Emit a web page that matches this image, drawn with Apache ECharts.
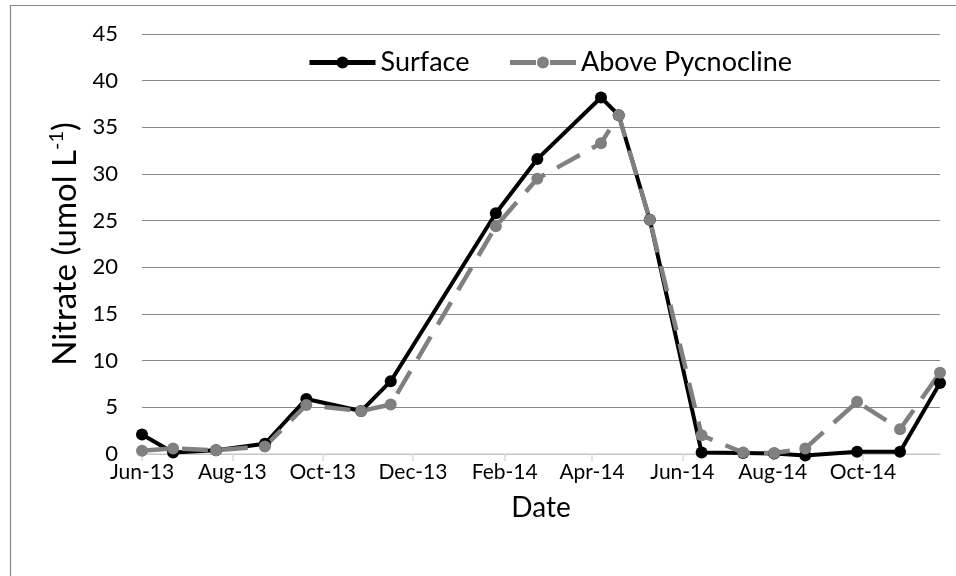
<!DOCTYPE html>
<html>
<head>
<meta charset="utf-8">
<script src="https://cdn.jsdelivr.net/npm/echarts@6/dist/echarts.min.js"></script>
<style>
  html, body { margin: 0; padding: 0; background: #ffffff; }
  #chart { width: 956px; height: 576px; }
</style>
</head>
<body>
<div id="chart"></div>
<script>
// Sampling dates (YYYY-MM-DD)
const sampleDates = [
  '2013-06-01', '2013-06-22', '2013-07-21', '2013-08-23', '2013-09-20',
  '2013-10-27', '2013-11-16', '2014-01-26', '2014-02-23', '2014-04-07',
  '2014-04-19', '2014-05-10', '2014-06-14', '2014-07-12', '2014-08-02',
  '2014-08-23', '2014-09-27', '2014-10-26', '2014-11-22'
];

// Nitrate concentrations (umol L-1)
const surface = [
  2.1, 0.15, 0.4, 1.1, 5.9, 4.6, 7.8, 25.8, 31.6, 38.2,
  36.3, 25.1, 0.15, 0.1, 0.05, -0.15, 0.25, 0.25, 7.6
];
const abovePycnocline = [
  0.35, 0.6, 0.4, 0.8, 5.25, 4.6, 5.3, 24.4, 29.5, 33.3,
  36.3, 25.1, 2.0, 0.15, 0.1, 0.6, 5.6, 2.65, 8.7
];

// Date-axis tick positions (every two months)
const tickDates = [
  '2013-06-01', '2013-08-01', '2013-10-01', '2013-12-01', '2014-02-01',
  '2014-04-01', '2014-06-01', '2014-08-01', '2014-10-01'
];
const monthNames = ['Jan', 'Feb', 'Mar', 'Apr', 'May', 'Jun', 'Jul', 'Aug', 'Sep', 'Oct', 'Nov', 'Dec'];

const FONT = 'Lato';
const DAY = 86400000;

// Dates are placed on a linear axis measured in days since the first sample
const origin = Date.UTC(2013, 5, 1);
function toDay(s) {
  const p = s.split('-').map(Number);
  return (Date.UTC(p[0], p[1] - 1, p[2]) - origin) / DAY;
}
function fmtDay(v) {
  const d = new Date(origin + Math.round(v) * DAY);
  return monthNames[d.getUTCMonth()] + '-' + String(d.getUTCFullYear()).slice(2);
}

const days = sampleDates.map(toDay);
const tickDays = tickDates.map(toDay);
const surfaceData = days.map((t, i) => [t, surface[i]]);
const aboveData = days.map((t, i) => [t, abovePycnocline[i]]);

const chart = echarts.init(document.getElementById('chart'));
chart.setOption({
  animation: false,
  backgroundColor: '#ffffff',
  textStyle: { fontFamily: FONT },
  grid: { left: 142, right: 16, top: 34, bottom: 122, containLabel: false },
  legend: {
    left: 302,
    top: 44,
    itemWidth: 66,
    itemHeight: 15,
    itemGap: 38,
    textStyle: { fontFamily: FONT, fontSize: 27, color: '#000000' },
    data: [
      { name: 'Surface', lineStyle: { width: 5 } },
      { name: 'Above Pycnocline', lineStyle: { width: 5, type: [26, 14] } }
    ]
  },
  xAxis: {
    type: 'value',
    min: days[0],
    max: days[days.length - 1],
    name: 'Date',
    nameLocation: 'middle',
    nameGap: 40,
    nameTextStyle: { fontFamily: FONT, fontSize: 28, color: '#000000' },
    splitLine: { show: false },
    axisLine: { show: true, lineStyle: { color: '#d9d9d9', width: 1.5 } },
    axisTick: {
      show: true,
      customValues: tickDays,
      length: 7,
      lineStyle: { color: '#d9d9d9', width: 1.5 }
    },
    axisLabel: {
      customValues: tickDays,
      formatter: fmtDay,
      fontFamily: FONT,
      fontSize: 21,
      color: '#000000',
      margin: 8
    }
  },
  yAxis: {
    type: 'value',
    min: 0,
    max: 45,
    interval: 5,
    name: '{a|Nitrate (umol L}{b|-1}{a|)}',
    nameLocation: 'middle',
    nameRotate: 90,
    nameGap: 54,
    nameTextStyle: {
      rich: {
        a: { fontFamily: FONT, fontSize: 33, color: '#000000', lineHeight: 38 },
        b: { fontFamily: FONT, fontSize: 20, color: '#000000', lineHeight: 23, verticalAlign: 'top' }
      }
    },
    axisLine: { show: false },
    axisTick: { show: false },
    axisLabel: { fontFamily: FONT, fontSize: 22, color: '#000000', margin: 24 },
    splitLine: { lineStyle: { color: '#898989', width: 1.2 } }
  },
  series: [
    {
      name: 'Surface',
      type: 'line',
      data: surfaceData,
      clip: false,
      symbol: 'circle',
      symbolSize: 12,
      lineStyle: { color: '#000000', width: 4 },
      itemStyle: { color: '#000000' },
      emphasis: { disabled: true }
    },
    {
      name: 'Above Pycnocline',
      type: 'line',
      data: aboveData,
      clip: false,
      symbol: 'circle',
      symbolSize: 12,
      lineStyle: { color: '#808080', width: 4.5, type: [26, 14] },
      itemStyle: { color: '#808080' },
      emphasis: { disabled: true }
    }
  ],
  graphic: [
    {
      type: 'polyline',
      silent: true,
      shape: { points: [[10.5, 576], [10.5, 5.5], [956, 5.5]] },
      style: { stroke: '#898989', lineWidth: 1.2, fill: null }
    }
  ]
});
</script>
</body>
</html>
